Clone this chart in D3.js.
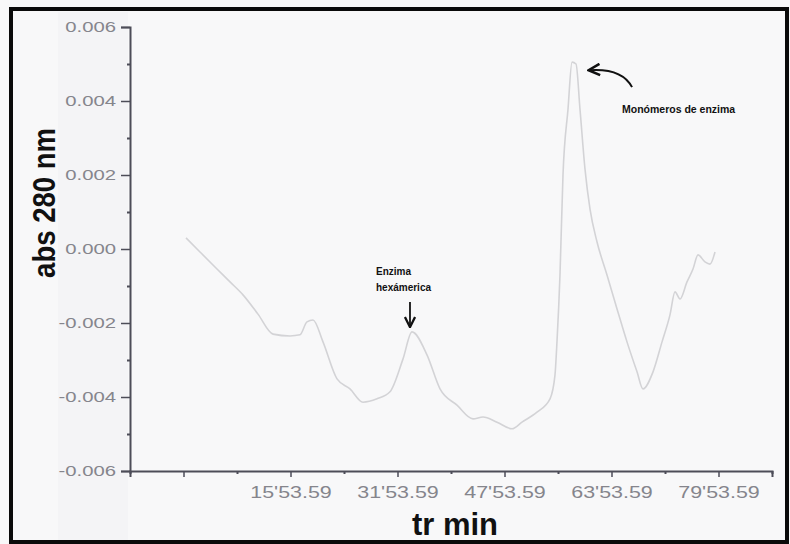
<!DOCTYPE html>
<html>
<head>
<meta charset="utf-8">
<script src="https://cdn.jsdelivr.net/npm/d3@7"></script>
<style>
  body { margin: 0; background: #fff; }
  svg { display: block; }
</style>
</head>
<body>
<svg id="chart" width="790" height="544"></svg>
<script>
// retention time (min) and absorbance
var timeMin = [0.27, 2.36, 4.90, 6.85, 8.79, 11.03, 13.28, 15.82, 17.31, 18.36, 19.26, 20.75,
  22.85, 24.79, 26.73, 28.83, 30.77, 32.72, 34.06, 36.30, 38.25, 40.79, 43.18, 44.68, 46.77,
  49.02, 50.51, 52.75, 54.70, 55.44, 55.74, 56.19, 56.64, 57.39, 57.99, 58.59, 59.18, 59.93,
  60.68, 61.73, 63.22, 64.72, 66.21, 67.71, 68.60, 70.10, 71.45, 72.64, 73.39, 74.14, 75.18,
  76.08, 76.83, 77.87, 78.62, 79.37]
var absorbance = [0.0003, -0.00008, -0.00054, -0.00089, -0.00124, -0.00176, -0.0023, -0.00235,
  -0.00232, -0.00197, -0.00192, -0.00251, -0.00351, -0.00378, -0.00414, -0.00405, -0.00386,
  -0.00297, -0.00224, -0.00286, -0.00378, -0.00422, -0.00459, -0.00454, -0.00468, -0.00486,
  -0.00468, -0.00441, -0.00405, -0.00341, -0.00251, -0.0007, 0.002, 0.00378, 0.00505, 0.0050,
  0.00378, 0.00216, 0.00108, 0.00019, -0.0007, -0.00162, -0.00251, -0.00332, -0.00378,
  -0.00332, -0.00251, -0.00178, -0.00116, -0.00135, -0.00089, -0.00054, -0.00016, -0.00035,
  -0.00041, -0.00008]

var xMajorTicks = [-0.1068, 15.8932, 31.8932, 47.8932, 63.8932, 79.8932]
var xMajorLabels = ["", "15'53.59", "31'53.59", "47'53.59", "63'53.59", "79'53.59"]
var xMinorTicks = [-8.1068, 7.8932, 23.8932, 39.8932, 55.8932, 71.8932, 87.8932]
var yMajorTicks = [-0.006, -0.004, -0.002, 0, 0.002, 0.004, 0.006]
var yMajorLabels = ["-0.006", "-0.004", "-0.002", "0.000", "0.002", "0.004", "0.006"]
var yMinorTicks = [-0.005, -0.003, -0.001, 0.001, 0.003, 0.005]

var svg = d3.select('#chart')
var W = 790, H = 544

// background + frame
svg.append('rect').attr('width', W).attr('height', H).attr('fill', '#f8f8f9')
svg.append('rect').attr('x', 58).attr('y', 12).attr('width', 70).attr('height', 528).attr('fill', '#f4f4f6')

var x = d3.scaleLinear().domain([-8.1068, 87.8932]).range([130, 772])
var y = d3.scaleLinear().domain([-0.006, 0.006]).range([471, 27])

var axisColor = '#4d4d58'
var labelColor = '#85858c'

// x axis
var gx = svg.append('g').attr('transform', 'translate(0,471)')
gx.call(d3.axisBottom(x).tickValues(xMajorTicks).tickSize(6)
  .tickFormat((d, i) => xMajorLabels[i]))
gx.select('.domain').attr('stroke', axisColor).attr('stroke-width', 2)
gx.selectAll('.tick line').attr('stroke', axisColor).attr('stroke-width', 1.5)
gx.selectAll('.tick text')
  .attr('fill', labelColor).attr('font-family', 'Liberation Sans, Arial, sans-serif')
  .attr('font-size', 16.5).attr('y', 27).attr('dy', 0)
  .attr('transform', 'scale(1.3,1)')
var gxm = svg.append('g').attr('transform', 'translate(0,471)')
gxm.call(d3.axisBottom(x).tickValues(xMinorTicks).tickSize(3).tickFormat(''))
gxm.select('.domain').remove()
gxm.selectAll('.tick line').attr('stroke', axisColor).attr('stroke-width', 2)

// y axis
var gy = svg.append('g').attr('transform', 'translate(130,0)')
gy.call(d3.axisLeft(y).tickValues(yMajorTicks).tickSize(9)
  .tickFormat((d, i) => yMajorLabels[i]))
gy.select('.domain').attr('stroke', axisColor).attr('stroke-width', 2)
gy.selectAll('.tick line').attr('stroke', axisColor).attr('stroke-width', 1.5)
gy.selectAll('.tick text')
  .attr('fill', labelColor).attr('font-family', 'Liberation Sans, Arial, sans-serif')
  .attr('font-size', 14).attr('x', -14 / 1.45)
  .attr('transform', 'scale(1.45,1)')
var gym = svg.append('g').attr('transform', 'translate(130,0)')
gym.call(d3.axisLeft(y).tickValues(yMinorTicks).tickSize(3).tickFormat(''))
gym.select('.domain').remove()
gym.selectAll('.tick line').attr('stroke', axisColor).attr('stroke-width', 2)

// axis titles
svg.append('text')
  .attr('transform', 'translate(55,' + ((128 + 278) / 2) + ') rotate(-90) scale(1,1.12)')
  .attr('text-anchor', 'middle')
  .attr('font-family', 'Liberation Sans, Arial, sans-serif')
  .attr('font-weight', 'bold').attr('font-size', 27.5).attr('fill', '#111')
  .text('abs 280 nm')
svg.append('text')
  .attr('x', 455).attr('y', 535)
  .attr('text-anchor', 'middle')
  .attr('font-family', 'Liberation Sans, Arial, sans-serif')
  .attr('font-weight', 'bold').attr('font-size', 31).attr('fill', '#111')
  .text('tr min')

// trace
var points = timeMin.map((t, i) => [t, absorbance[i]])
var line = d3.line().x(d => x(d[0])).y(d => y(d[1])).curve(d3.curveMonotoneX)
svg.append('path')
  .attr('d', line(points))
  .attr('fill', 'none')
  .attr('stroke', '#d3d3d6')
  .attr('stroke-width', 1.6)

// annotations
var defs = svg.append('defs')
defs.append('marker').attr('id', 'head')
  .attr('viewBox', '0 0 10 10').attr('refX', 8).attr('refY', 5)
  .attr('markerWidth', 7).attr('markerHeight', 7).attr('orient', 'auto-start-reverse')
  .append('path').attr('d', 'M1,1 L9,5 L1,9').attr('fill', 'none')
  .attr('stroke', '#111').attr('stroke-width', 1.8)

var hexT = 34.06, hexV = -0.00224
var hx = x(hexT), hy = y(hexV)
svg.append('line')
  .attr('x1', hx - 2).attr('y1', hy - 30).attr('x2', hx - 2).attr('y2', hy - 6)
  .attr('stroke', '#111').attr('stroke-width', 1.8).attr('marker-end', 'url(#head)')
var hexText = svg.append('text')
  .attr('font-family', 'Liberation Sans, Arial, sans-serif')
  .attr('font-weight', 'bold').attr('font-size', 10).attr('fill', '#111')
hexText.append('tspan').attr('x', hx - 36).attr('y', hy - 57).text('Enzima')
hexText.append('tspan').attr('x', hx - 36).attr('y', hy - 41).text('hexámerica')

var monT = 57.99, monV = 0.00505
var mx = x(monT), my = y(monV)
svg.append('path')
  .attr('d', 'M' + (mx + 60) + ',' + (my + 25) + ' Q' + (mx + 50) + ',' + (my + 6) + ' ' + (mx + 18) + ',' + (my + 8))
  .attr('fill', 'none').attr('stroke', '#111').attr('stroke-width', 2)
  .attr('marker-end', 'url(#head)')
svg.append('text')
  .attr('x', mx + 50).attr('y', my + 51)
  .attr('font-family', 'Liberation Sans, Arial, sans-serif')
  .attr('font-weight', 'bold').attr('font-size', 10.5).attr('fill', '#111')
  .text('Monómeros de enzima')

// outer frame
svg.append('rect')
  .attr('x', 11).attr('y', 9).attr('width', 776).attr('height', 533)
  .attr('fill', 'none').attr('stroke', '#0a0a0a').attr('stroke-width', 4)
</script>
</body>
</html>
